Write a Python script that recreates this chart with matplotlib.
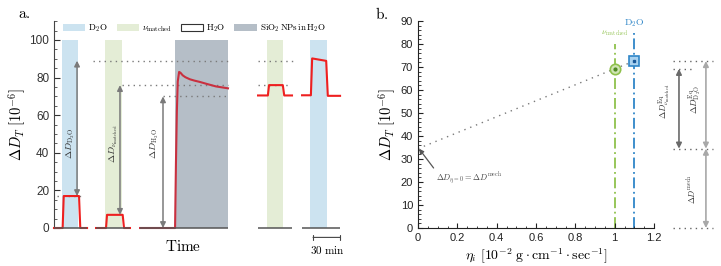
import numpy as np
import matplotlib
matplotlib.use("Agg")
import matplotlib.pyplot as plt
from matplotlib.patches import Patch
from matplotlib.ticker import MultipleLocator

plt.rcParams['font.family'] = ['Liberation Sans', 'DejaVu Sans']
plt.rcParams['mathtext.fontset'] = 'cm'

# ---------------- panel a data (time in minutes) ----------------
seg_lo = [0, 46.7, 95.6, 226.7, 275.6]
seg_hi = [36.7, 84.4, 193.3, 264.4, 317.8]

band_start = [8.9, 56.7, 134.4, 236.7, 284.4]
band_end = [26.7, 75.6, 193.3, 254.4, 303.3]
band_kind = ['D2O', 'nu', 'SiO2', 'nu', 'D2O']

t1 = [0, 9.6, 10.8, 27.8, 29.2, 36.7]
v1 = [0, 0, 17, 17, 0, 0]
t2 = [46.7, 57.8, 58.9, 76.3, 77.8, 84.4]
v2 = [0, 0, 7, 7, 0, 0]
t3 = [95.6, 134.5, 135.5, 136.5, 137.5, 139.0, 140.5, 143, 146, 151, 156, 162, 170, 180, 193.3]
v3 = [0, 0, 35, 62, 78, 83, 82.6, 81.2, 80.2, 79.1, 78.4, 77.7, 76.6, 75.3, 74.3]
t4 = [226.7, 237.6, 238.9, 254.2, 255.8, 264.4]
v4 = [70.5, 70.5, 76, 76, 70.5, 70.5]
t5 = [275.6, 285.4, 286.8, 302.4, 304.2, 317.8]
v5 = [70.6, 70.6, 90.2, 88.9, 70.3, 70.3]

arrow_t = [25.6, 73.3, 121.1]
arrow_lo = [17, 7, 0]
arrow_hi = [89, 76, 70]
arrow_lbl = [r'$\Delta D_{\mathrm{D_2O}}$', r'$\Delta D_{\nu_{\mathrm{matched}}}$', r'$\Delta D_{\mathrm{H_2O}}$']
lbl_t = [18.9, 66.7, 112.0]

guide_y = [89, 89, 76, 76, 70, 17]
guide_x0 = [43.3, 226.7, 75.6, 226.7, 121.0, 3.3]
guide_x1 = [193.3, 265.6, 193.3, 262.2, 193.3, 31.0]

# ---------------- panel b data ----------------
eta = [1.0, 1.1]
dD_eq = [69.2, 72.6]
dD_mech = 34.5

band_col = {'D2O': '#cce3f0', 'nu': '#e4edd6', 'SiO2': '#b5bec7'}
red = '#ee2020'
crimson = '#c9303f'
grey = '#7a7a7a'
green = '#8fc14c'
blue = '#2f86c8'

fig = plt.figure(figsize=(7.21, 2.66), dpi=100)

# ================= panel a =================
ax = fig.add_axes([54 / 721, 38 / 266, 291 / 721, 206.8 / 266])
ax.set_xlim(0, 323.3)
ax.set_ylim(0, 110)

for s, e, k in zip(band_start, band_end, band_kind):
    ax.fill_between([s, e], 0, 100, color=band_col[k], lw=0, zorder=0)

for tt, vv in [(t1, v1), (t2, v2), (t4, v4), (t5, v5)]:
    ax.plot(tt, vv, color=red, lw=1.5, zorder=3, clip_on=False)
ax.plot(t3, v3, color=crimson, lw=1.5, zorder=3, clip_on=False)

for y, x0, x1 in zip(guide_y, guide_x0, guide_x1):
    ax.plot([x0, x1], [y, y], color=grey, lw=1, ls=(0, (1, 3)), zorder=2)

for x, lo, hi in zip(arrow_t, arrow_lo, arrow_hi):
    ax.annotate('', xy=(x, hi), xytext=(x, lo),
                arrowprops=dict(arrowstyle='<|-|>', color=grey, lw=1.1,
                                mutation_scale=8, shrinkA=0, shrinkB=0), zorder=4)
for x, s in zip(lbl_t, arrow_lbl):
    ax.text(x, 45, s, rotation=90, ha='center', va='center', fontsize=7, color='#333333')

# broken time axis
ax.hlines([0] * len(seg_lo), seg_lo, seg_hi, color='#555555', lw=1.1, clip_on=False, zorder=5)

ax.spines[['top', 'right', 'bottom']].set_visible(False)
ax.spines['left'].set_color('#444444')
ax.set_xticks([])
ax.set_yticks([0, 20, 40, 60, 80, 100])
ax.yaxis.set_minor_locator(MultipleLocator(5))
ax.tick_params(axis='y', which='major', direction='in', length=4, labelsize=8.5, colors='#333333')
ax.tick_params(axis='y', which='minor', direction='in', length=2, colors='#444444')
ax.set_ylabel(r'$\Delta D_T\ [10^{-6}]$', fontsize=10.5, labelpad=1)

# scale bar
ax.annotate('', xy=(317.8, -5), xytext=(287.8, -5), xycoords='data',
            arrowprops=dict(arrowstyle='|-|', color='#444444', lw=0.8, mutation_scale=2,
                            shrinkA=0, shrinkB=0), annotation_clip=False)
ax.text(303.8, -8.5, r'$30\ \mathrm{min}$', ha='center', va='top', fontsize=8)
ax.text(143.0, -6.0, r'$\mathrm{Time}$', ha='center', va='top', fontsize=11)

handles = [Patch(fc=band_col['D2O'], ec='none'), Patch(fc=band_col['nu'], ec='none'),
           Patch(fc='white', ec='#333333', lw=0.8), Patch(fc=band_col['SiO2'], ec='none')]
labels = [r'$\mathrm{D_2O}$', r'$\nu_{\mathrm{matched}}$', r'$\mathrm{H_2O}$', r'$\mathrm{SiO_2\,NPs\,in\,H_2O}$']
ax.legend(handles, labels, ncol=4, loc='center left', bbox_to_anchor=(0.03, 0.967),
          frameon=False, prop={'size': 6.5}, handlelength=2.5, handleheight=0.8,
          handletextpad=0.3, columnspacing=1.0, borderpad=0, borderaxespad=0)

fig.text(24 / 721, 1 - 14 / 266, r'$\mathrm{a.}$', fontsize=11, ha='center', va='center')

# ================= panel b =================
bx = fig.add_axes([418 / 721, 38 / 266, 236 / 721, 207 / 266])
bx.set_xlim(0, 1.2)
bx.set_ylim(0, 90)

bx.plot([0] + eta, [dD_mech] + dD_eq, color=grey, lw=1, ls=(0, (1, 3.5)), zorder=2)
bx.plot([eta[0], eta[0]], [0, 80], color=green, lw=1.3, ls=(0, (6, 2, 1, 2)), zorder=1)
bx.plot([eta[1], eta[1]], [0, 86], color=blue, lw=1.3, ls=(0, (6, 2, 1, 2)), zorder=1)
bx.text(eta[0], 82.5, r'$\nu_{\mathrm{matched}}$', color=green, fontsize=6, ha='center', va='bottom')
bx.text(eta[1], 86.5, r'$\mathrm{D_2O}$', color=blue, fontsize=7, ha='center', va='bottom')

bx.plot(eta[0], dD_eq[0], 'o', ms=7.5, mfc='#cfe4b4', mec=green, mew=1.2, zorder=4)
bx.plot(eta[0], dD_eq[0], 'o', ms=2, color='#4f8a22', zorder=5)
bx.plot(eta[1], dD_eq[1], 's', ms=7, mfc='#a9d2f0', mec=blue, mew=1.2, zorder=4)
bx.plot(eta[1], dD_eq[1], 's', ms=2, color='#1a5a9a', zorder=5)

bx.annotate(r'$\Delta D_{\eta=0} = \Delta D^{\mathrm{mech}}$', xy=(0.005, dD_mech), xytext=(0.09, 21.5),
            fontsize=6, color='#444444', ha='left', va='center',
            arrowprops=dict(arrowstyle='-|>', color='#555555', lw=0.9, mutation_scale=7,
                            shrinkA=0, shrinkB=0, relpos=(0, 1)))

# right side bracket annotations
for y, x1 in [(dD_eq[1], 1.50), (dD_eq[0], 1.393), (dD_mech, 1.50), (0, 1.50)]:
    bx.plot([1.296, x1], [y, y], color='#666666', lw=1, ls=(0, (1, 3)), clip_on=False)
for x, lo, hi, c in [(1.327, dD_mech, dD_eq[0], '#6a6a6a'), (1.464, dD_mech, dD_eq[1], '#a8a8a8'),
                     (1.464, 0, dD_mech, '#a8a8a8')]:
    bx.annotate('', xy=(x, hi), xytext=(x, lo), annotation_clip=False,
                arrowprops=dict(arrowstyle='<|-|>', color=c, lw=1.2, mutation_scale=8,
                                shrinkA=0, shrinkB=0))
bx.text(1.256, 55, r'$\Delta D^{\mathrm{Eq}}_{\nu_{\mathrm{matched}}}$', rotation=90, fontsize=6.3,
        ha='center', va='center', color='#333333')
bx.text(1.408, 56, r'$\Delta D^{\mathrm{Eq}}_{\mathrm{D_2O}}$', rotation=90, fontsize=6.5,
        ha='center', va='center', color='#333333')
bx.text(1.393, 17, r'$\Delta D^{\mathrm{mech}}$', rotation=90, fontsize=6,
        ha='center', va='center', color='#333333')

bx.spines[['top', 'right']].set_visible(False)
bx.spines[['left', 'bottom']].set_color('#222222')
bx.set_xticks([0, 0.2, 0.4, 0.6, 0.8, 1.0, 1.2])
bx.set_xticklabels(['0', '0.2', '0.4', '0.6', '0.8', '1', '1.2'])
bx.set_yticks(range(0, 91, 10))
bx.xaxis.set_minor_locator(MultipleLocator(0.05))
bx.yaxis.set_minor_locator(MultipleLocator(2))
bx.tick_params(which='major', direction='in', length=3.5, labelsize=8, colors='#222222')
bx.tick_params(which='minor', direction='in', length=1.8, colors='#222222')
bx.set_ylabel(r'$\Delta D_T\ [10^{-6}]$', fontsize=10.5, labelpad=2)
bx.set_xlabel(r'$\eta_i\ [10^{-2}\ \mathrm{g}\cdot\mathrm{cm}^{-1}\cdot\mathrm{sec}^{-1}]$', fontsize=10, labelpad=3)

fig.text(382 / 721, 1 - 14 / 266, r'$\mathrm{b.}$', fontsize=11, ha='center', va='center')

fig.savefig('out.png', dpi=100)
